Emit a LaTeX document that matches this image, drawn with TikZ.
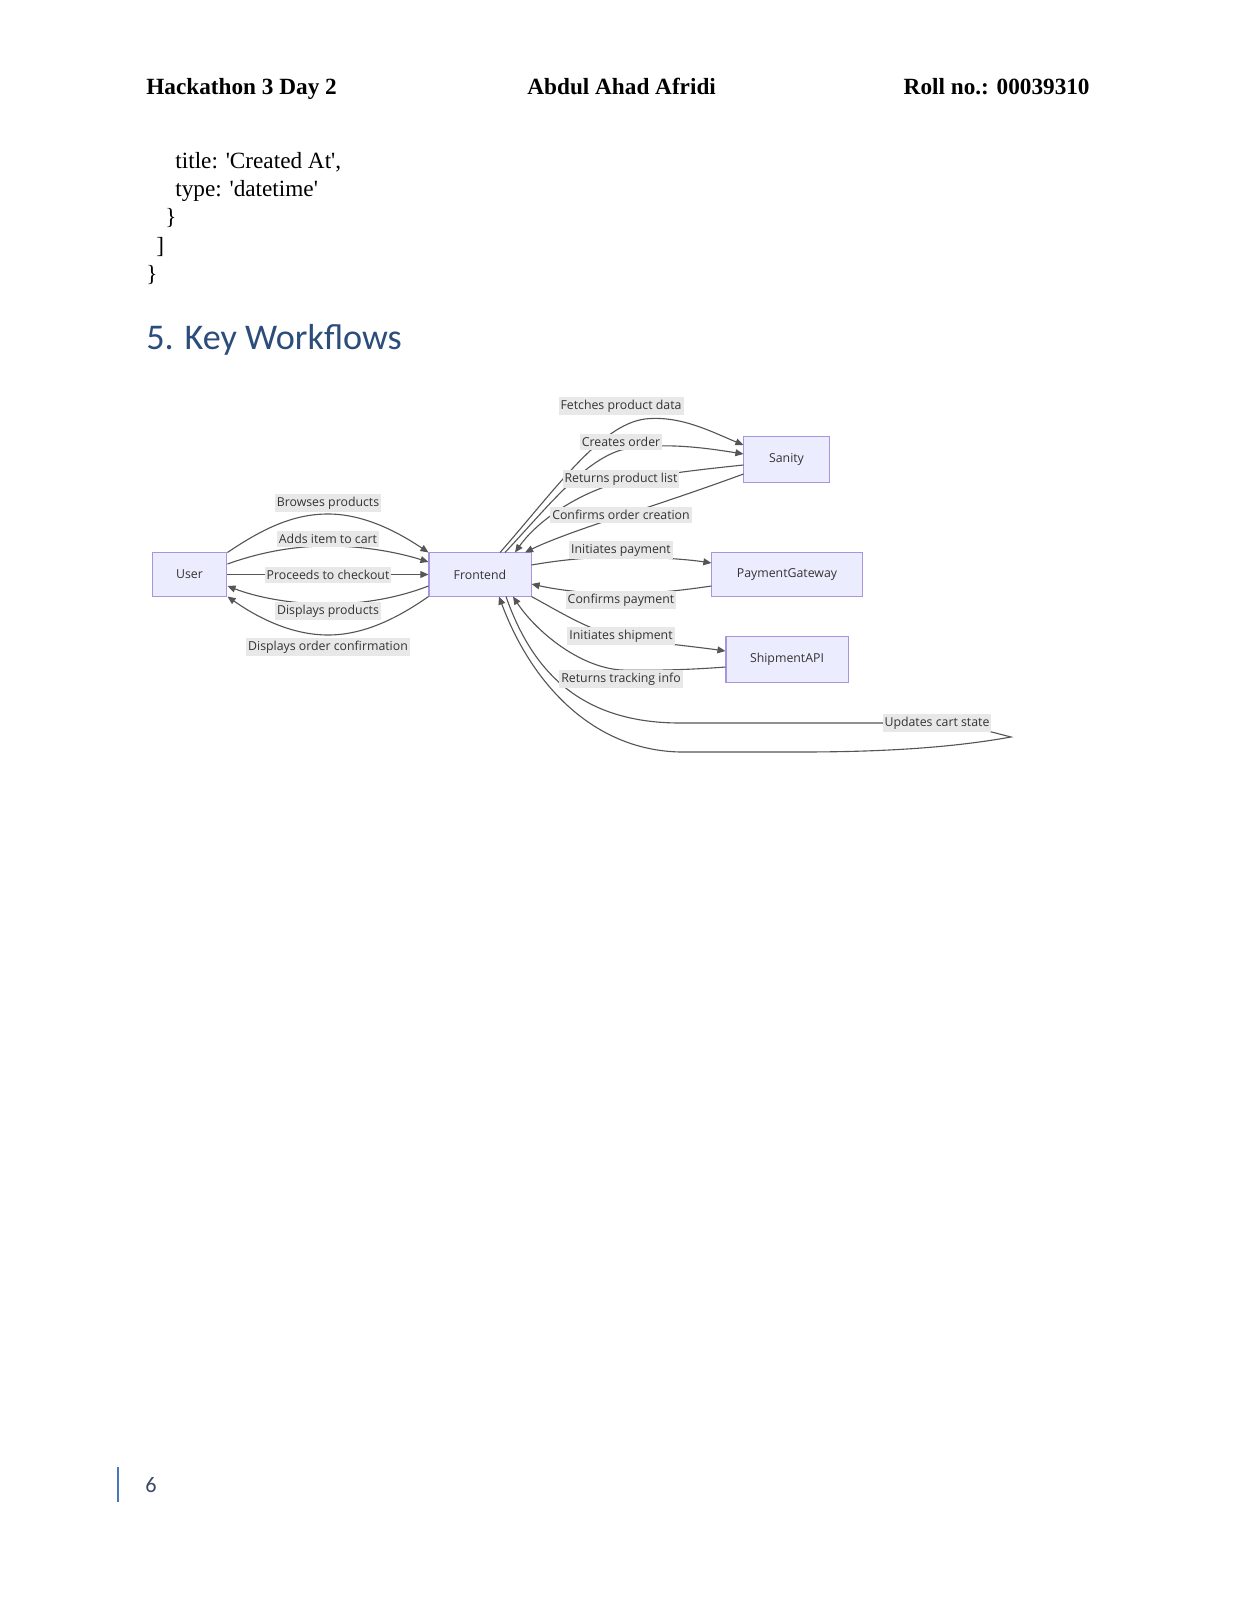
\documentclass[tikz,border=0pt]{standalone}
\usepackage{fontspec}
\setmainfont{Liberation Serif}
\newfontfamily\codefont{Liberation Serif}[Ligatures=TeXOff]
\newfontfamily\mmdfont{Open Sans}
\newfontfamily\bodyfont{Carlito}
\usetikzlibrary{arrows.meta,calc}

\definecolor{boxfill}{HTML}{ECECFF}
\definecolor{boxline}{HTML}{A795DF}
\definecolor{lblbg}{HTML}{E8E8E8}
\definecolor{mtext}{HTML}{333333}
\definecolor{edgec}{HTML}{555555}
\definecolor{headblue}{HTML}{2C4C7C}
\definecolor{barblue}{HTML}{4A76C0}
\definecolor{pagenum}{HTML}{3B4A66}

\tikzset{
  hdr/.style={inner sep=0, font=\fontsize{11.5}{13}\selectfont\bfseries},
  code/.style={inner sep=0, font=\codefont\fontsize{11.5}{13}\selectfont},
  box/.style={draw=boxline, fill=boxfill, line width=0.5pt, inner sep=0,
    font=\mmdfont\fontsize{6.1}{7}\selectfont, text=mtext},
  lbl/.style={fill=lblbg, inner xsep=1pt, inner ysep=1.6pt,
    font=\mmdfont\fontsize{6.1}{7}\selectfont, text=mtext},
  edge/.style={draw=edgec, line width=0.55pt},
  arr/.style={edge, -{Triangle[length=4pt,width=3.4pt]}}
}

\begin{document}
\begin{tikzpicture}[x=0.495pt, y=-0.495pt]
  \fill[white] (0,0) rectangle (1236,1600);
  \useasboundingbox (0,0) rectangle (1236,1600);

  % page header
  \node[hdr, anchor=base west] (h1) at (146,95) {Hackathon 3 Day 2};
  \node[hdr, anchor=base west] (h2) at (527,95) {Abdul Ahad Afridi};
  \node[hdr, anchor=base east] (h3) at (1090,95) {Roll no.: 00039310};

  % tail of the schema code
  \node[code, anchor=base west] (c1) at (175,169) {title: 'Created At',};
  \node[code, anchor=base west] (c2) at (175,197) {type: 'datetime'};
  \node[code, anchor=base west] (c3) at (165,225) {\}};
  \node[code, anchor=base west] (c4) at (156,254) {]};
  \node[code, anchor=base west] (c5) at (146,282) {\}};

  % section heading
  \node[inner sep=0, anchor=base west, text=headblue,
        font=\bodyfont\fontsize{17.9}{20}\selectfont] (sec) at (146,350) {5. Key Workflows};

  % participants
  \node[box, minimum width=37.1pt, minimum height=21.3pt] (user) at (189.5,574.5) {User};
  \node[box, minimum width=50.5pt, minimum height=21.3pt] (frontend) at (480,574.5) {Frontend};
  \node[box, minimum width=42.1pt, minimum height=22.3pt] (sanity) at (786.5,459.5) {Sanity};
  \node[box, minimum width=74.3pt, minimum height=21.3pt] (payment) at (787,574.5) {PaymentGateway};
  \node[box, minimum width=60.4pt, minimum height=22.3pt] (shipment) at (787,659.5) {ShipmentAPI};

  % label positions
  \coordinate (pBrowse) at (328,503);
  \coordinate (pAdds) at (328,539);
  \coordinate (pProceed) at (328,575);
  \coordinate (pDispP) at (328,611);
  \coordinate (pDispC) at (328,647);
  \coordinate (pFetch) at (621,406);
  \coordinate (pCreate) at (621,442);
  \coordinate (pRetList) at (621,479);
  \coordinate (pConfOrd) at (621,515);
  \coordinate (pInitPay) at (621,550);
  \coordinate (pConfPay) at (621,600);
  \coordinate (pInitShip) at (621,636);
  \coordinate (pRetTrack) at (621,679);
  \coordinate (pCart) at (937,723);
  \coordinate (loopTip) at (1011,737);

  % User <-> Frontend
  \draw[arr] (user.north east) .. controls (265,527) and (295,514) .. (328,514)
        .. controls (362,514) and (395,530) .. (frontend.north west);
  \draw[arr] ($(user.east)+(0,-10.5)$) .. controls (258,553) and (292,546) .. (328,546)
        .. controls (366,546) and (400,553) .. ($(frontend.west)+(0,-12.5)$);
  \draw[arr] (user.east) -- (frontend.west);
  \draw[arr] ($(frontend.west)+(0,11.5)$) .. controls (400,597) and (366,604) .. (328,604)
        .. controls (290,604) and (256,597) .. ($(user.east)+(0,11.5)$);
  \draw[arr] (frontend.south west) .. controls (395,620) and (362,635) .. (328,635)
        .. controls (294,635) and (261,620) .. (user.south east);

  % Frontend <-> Sanity
  \draw[arr] ($(frontend.north)+(20,0)$) .. controls (555,490) and (600,425) .. (645,419)
        .. controls (680,415) and (712,432) .. ($(sanity.west)+(0,-14.5)$);
  \draw[arr] ($(frontend.north)+(25,0)$) .. controls (545,510) and (582,462) .. (621,450)
        .. controls (660,442) and (700,447) .. ($(sanity.west)+(0,-5.5)$);
  \draw[arr] ($(sanity.west)+(0,5.5)$) .. controls (705,469) and (660,474) .. (621,482)
        .. controls (580,492) and (538,520) .. ($(frontend.north)+(35,0)$);
  \draw[arr] ($(sanity.west)+(0,14.5)$) .. controls (700,490) and (655,505) .. (621,516)
        .. controls (590,526) and (550,540) .. ($(frontend.north)+(45,0)$);

  % Frontend <-> PaymentGateway
  \draw[arr] ($(frontend.east)+(0,-9.5)$) .. controls (560,560) and (590,557) .. (621,557)
        .. controls (652,557) and (685,559) .. ($(payment.west)+(0,-11.5)$);
  \draw[arr] ($(payment.west)+(0,11.5)$) .. controls (685,590) and (650,594) .. (621,594)
        .. controls (590,594) and (558,590) .. ($(frontend.east)+(0,9.5)$);

  % Frontend <-> ShipmentAPI
  \draw[arr] (frontend.south east) .. controls (560,612) and (590,631) .. (621,637)
        .. controls (655,643) and (690,646) .. ($(shipment.west)+(0,-8.5)$);
  \draw[arr] ($(shipment.west)+(0,7.5)$) .. controls (700,669) and (660,671) .. (621,670)
        .. controls (578,667) and (535,630) .. ($(frontend.south)+(33,0)$);

  % Frontend self loop
  \draw[arr] ($(frontend.south)+(26,0)$) .. controls (530,665) and (575,723) .. (680,723)
        -- (957,723) -- (loopTip)
        .. controls (950,748) and (880,752) .. (800,752) -- (680,752)
        .. controls (590,750) and (530,680) .. ($(frontend.south)+(19,0)$);

  % edge labels
  \node[lbl] (lBrowse) at (pBrowse) {Browses products};
  \node[lbl] (lAdds) at (pAdds) {Adds item to cart};
  \node[lbl] (lProceed) at (pProceed) {Proceeds to checkout};
  \node[lbl] (lDispP) at (pDispP) {Displays products};
  \node[lbl] (lDispC) at (pDispC) {Displays order confirmation};
  \node[lbl] (lFetch) at (pFetch) {Fetches product data};
  \node[lbl] (lCreate) at (pCreate) {Creates order};
  \node[lbl] (lRetList) at (pRetList) {Returns product list};
  \node[lbl] (lConfOrd) at (pConfOrd) {Confirms order creation};
  \node[lbl] (lInitPay) at (pInitPay) {Initiates payment};
  \node[lbl] (lConfPay) at (pConfPay) {Confirms payment};
  \node[lbl] (lInitShip) at (pInitShip) {Initiates shipment};
  \node[lbl] (lRetTrack) at (pRetTrack) {Returns tracking info};
  \node[lbl] (lCart) at (pCart) {Updates cart state};

  % footer
  \draw[barblue, line width=1.4pt] (118,1467) coordinate (barTop) -- (118,1502) coordinate (barBot);
  \node[inner sep=0, anchor=base west, text=pagenum,
        font=\bodyfont\fontsize{11}{13}\selectfont] (pg) at (145,1492) {6};
\end{tikzpicture}
\end{document}
